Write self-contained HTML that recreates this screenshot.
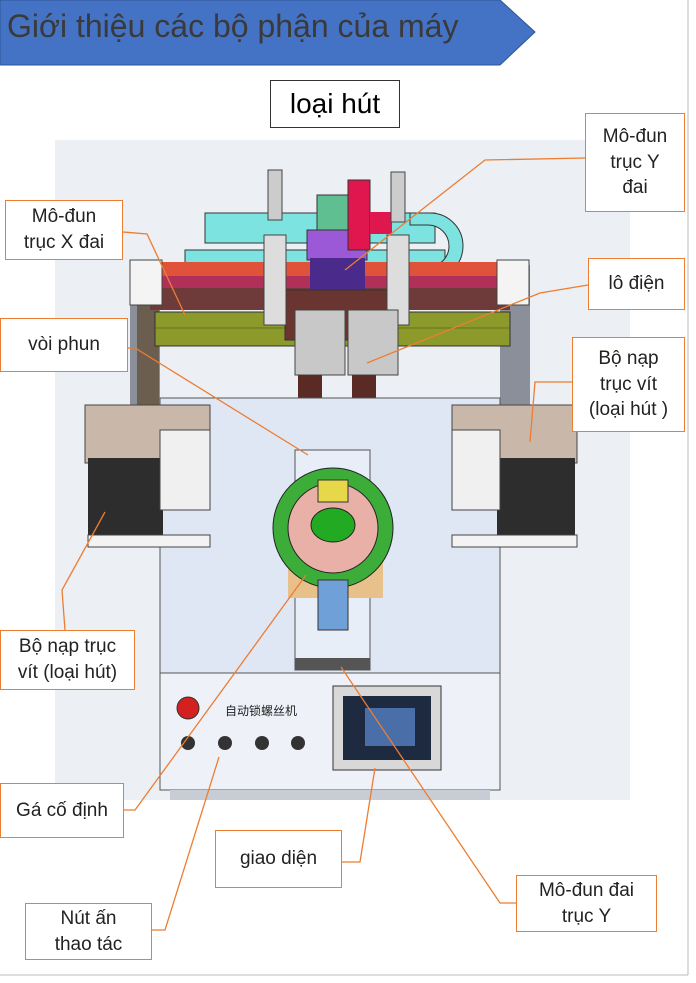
<!DOCTYPE html>
<html><head><meta charset="utf-8"><style>
body{margin:0;width:696px;height:983px;background:#fff;position:relative;overflow:hidden;font-family:"Liberation Sans","DejaVu Sans",sans-serif}
.a{position:absolute}
.lb{position:absolute;background:#fff;border:1px solid #ed7d31;font-size:19px;color:#222;text-align:center;display:flex;align-items:center;justify-content:center;line-height:1.35;box-sizing:border-box}
</style></head><body>
<svg class="a" style="left:0;top:0" width="696" height="983">
<polygon points="0,0 500,0 535,32 500,65 0,65" fill="#4472c4" stroke="#2f5597"/>
<line x1="688" y1="0" x2="688" y2="975" stroke="#bbb"/>
<line x1="0" y1="975" x2="688" y2="975" stroke="#bbb"/>
<rect x="55" y="140" width="575" height="660" fill="#eceff4"/>
<rect x="130" y="265" width="30" height="140" fill="#8a8f99"/>
<rect x="500" y="265" width="30" height="140" fill="#8a8f99"/>
<rect x="137" y="300" width="22" height="105" fill="#6b5e4f"/>
<rect x="205" y="213" width="230" height="30" fill="#7de3e0" stroke="#333"/>
<rect x="185" y="250" width="260" height="30" fill="#7de3e0" stroke="#333"/>
<path d="M410,213 h20 a33,33 0 0 1 0,66 h-20 v-12 h18 a21,21 0 0 0 0,-42 h-18z" fill="#7de3e0" stroke="#333"/>
<rect x="150" y="262" width="360" height="14" fill="#e0533a"/>
<rect x="150" y="276" width="360" height="12" fill="#b0305a"/>
<rect x="150" y="288" width="360" height="22" fill="#6e3a3a"/>
<rect x="130" y="260" width="32" height="45" fill="#f4f4f4" stroke="#444"/>
<rect x="497" y="260" width="32" height="45" fill="#f4f4f4" stroke="#444"/>
<rect x="155" y="312" width="355" height="34" fill="#8c9a2c" stroke="#333"/>
<line x1="155" y1="328" x2="510" y2="328" stroke="#667017"/>
<rect x="317" y="195" width="45" height="40" fill="#5fbf90" stroke="#333"/>
<rect x="307" y="230" width="60" height="30" fill="#9b59d8" stroke="#333"/>
<rect x="348" y="180" width="22" height="70" fill="#e0174e" stroke="#333"/>
<rect x="370" y="212" width="22" height="22" fill="#e0174e"/>
<rect x="310" y="258" width="55" height="35" fill="#4a2a8a"/>
<rect x="285" y="290" width="110" height="50" fill="#6a3530" stroke="#333"/>
<rect x="268" y="170" width="14" height="50" fill="#ccc" stroke="#444"/>
<rect x="264" y="235" width="22" height="90" fill="#ddd" stroke="#444"/>
<rect x="391" y="172" width="14" height="50" fill="#ccc" stroke="#444"/>
<rect x="387" y="235" width="22" height="90" fill="#ddd" stroke="#444"/>
<rect x="295" y="310" width="50" height="65" fill="#c8c8c8" stroke="#444"/>
<rect x="348" y="310" width="50" height="65" fill="#c8c8c8" stroke="#444"/>
<rect x="298" y="375" width="24" height="30" fill="#5a2a25"/>
<rect x="352" y="375" width="24" height="30" fill="#5a2a25"/>
<rect x="302" y="405" width="16" height="40" fill="#eee" stroke="#444"/>
<rect x="356" y="405" width="16" height="40" fill="#eee" stroke="#444"/>
<rect x="306" y="445" width="7" height="18" fill="#a0504a"/>
<rect x="360" y="445" width="7" height="18" fill="#a0504a"/>
<rect x="160" y="398" width="340" height="392" fill="#dfe7f4" stroke="#555"/>
<rect x="295" y="450" width="75" height="220" fill="#e8eef8" stroke="#555"/>
<rect x="85" y="405" width="125" height="58" fill="#c9b7aa" stroke="#444"/>
<rect x="88" y="458" width="75" height="78" fill="#2d2d2d"/>
<rect x="160" y="430" width="50" height="80" fill="#f0f0f0" stroke="#444"/>
<rect x="88" y="535" width="122" height="12" fill="#f3f3f3" stroke="#444"/>
<rect x="452" y="405" width="125" height="58" fill="#c9b7aa" stroke="#444"/>
<rect x="497" y="458" width="78" height="78" fill="#2d2d2d"/>
<rect x="452" y="430" width="48" height="80" fill="#f0f0f0" stroke="#444"/>
<rect x="452" y="535" width="125" height="12" fill="#f3f3f3" stroke="#444"/>
<rect x="288" y="548" width="95" height="50" fill="#e8c08a"/>
<circle cx="333" cy="528" r="60" fill="#3dad3a" stroke="#222"/>
<circle cx="333" cy="528" r="45" fill="#e9b0a8" stroke="#222"/>
<ellipse cx="333" cy="525" rx="22" ry="17" fill="#22aa22" stroke="#222"/>
<rect x="318" y="480" width="30" height="22" fill="#e7d84a" stroke="#333"/>
<rect x="318" y="580" width="30" height="50" fill="#6fa0d8" stroke="#333"/>
<rect x="160" y="673" width="340" height="117" fill="#eef2f8" stroke="#555"/>
<rect x="295" y="658" width="75" height="12" fill="#555"/>
<rect x="333" y="686" width="108" height="84" fill="#d8d8d8" stroke="#333"/>
<rect x="343" y="696" width="88" height="64" fill="#1d2a40"/>
<rect x="365" y="708" width="50" height="38" fill="#4a6fa8"/>
<circle cx="188" cy="708" r="11" fill="#d42020" stroke="#333"/>
<circle cx="188" cy="743" r="7" fill="#333"/><circle cx="225" cy="743" r="7" fill="#333"/>
<circle cx="262" cy="743" r="7" fill="#333"/><circle cx="298" cy="743" r="7" fill="#333"/>
<text x="225" y="715" font-size="12" font-family="Noto Sans CJK SC,sans-serif" fill="#222">自动锁螺丝机</text>
<rect x="170" y="790" width="320" height="10" fill="#c8ccd4"/>
<g stroke="#ed7d31" stroke-width="1.3" fill="none">
<polyline points="585,158 485,160 345,270"/>
<polyline points="123,232 147,234 185,315"/>
<polyline points="588,285 540,293 367,363"/>
<polyline points="128,348 135,348 308,455"/>
<polyline points="572,382 535,382 530,442"/>
<polyline points="65,630 62,590 105,512"/>
<polyline points="124,810 135,810 306,575"/>
<polyline points="342,862 360,862 375,768"/>
<polyline points="152,930 165,930 219,757"/>
<polyline points="516,903 500,903 341,667"/>
</g>
</svg>
<div class="a" style="left:7px;top:8px;color:#3a3a3a;font-size:32px">Giới thiệu các bộ phận của máy</div>
<div class="a" style="left:270px;top:80px;width:130px;height:48px;border:1px solid #333;box-sizing:border-box;font-size:28px;text-align:center;line-height:46px;background:#fff">loại hút</div>
<div class="lb" style="left:585px;top:113px;width:100px;height:99px">Mô-đun<br>trục Y<br>đai</div>
<div class="lb" style="left:5px;top:200px;width:118px;height:60px">Mô-đun<br>trục X đai</div>
<div class="lb" style="left:588px;top:258px;width:97px;height:52px">lô điện</div>
<div class="lb" style="left:0;top:318px;width:128px;height:54px">vòi phun</div>
<div class="lb" style="left:572px;top:337px;width:113px;height:95px">Bộ nạp<br>trục vít<br>(loại hút )</div>
<div class="lb" style="left:0;top:630px;width:135px;height:60px">Bộ nạp trục<br>vít (loại hút)</div>
<div class="lb" style="left:0;top:783px;width:124px;height:55px">Gá cố định</div>
<div class="lb" style="left:215px;top:830px;width:127px;height:58px">giao diện</div>
<div class="lb" style="left:25px;top:903px;width:127px;height:57px">Nút ấn<br>thao tác</div>
<div class="lb" style="left:516px;top:875px;width:141px;height:57px">Mô-đun đai<br>trục Y</div>
</body></html>
